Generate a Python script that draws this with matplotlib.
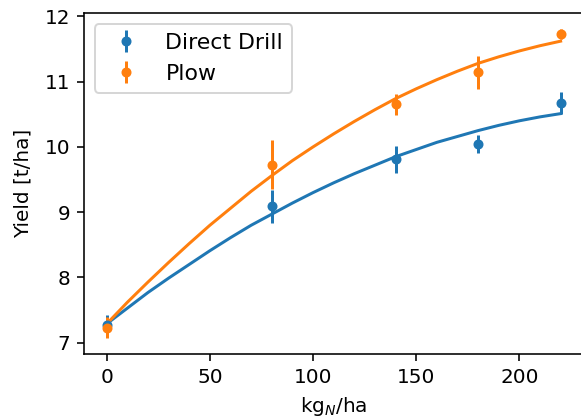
import numpy as np
import matplotlib
matplotlib.use("Agg")
import matplotlib.pyplot as plt

# Measured yields (mean and error) per nitrogen rate
n_rate = [0, 80, 140, 180, 220]
dd_yield = [7.27, 9.09, 9.81, 10.04, 10.67]
dd_err = [0.15, 0.25, 0.21, 0.14, 0.17]
plow_yield = [7.23, 9.73, 10.65, 11.14, 11.73]
plow_err = [0.16, 0.38, 0.16, 0.26, 0.08]

# Fitted response curves
curve_x = [0, 10, 20, 30, 40, 50, 60, 70, 80, 90, 100, 110, 120, 130, 140,
           150, 160, 170, 180, 190, 200, 210, 220]
dd_curve = [7.29, 7.53, 7.77, 7.99, 8.20, 8.41, 8.61, 8.80, 8.97, 9.14, 9.30,
            9.45, 9.59, 9.72, 9.85, 9.96, 10.07, 10.16, 10.25, 10.33, 10.40,
            10.46, 10.51]
plow_curve = [7.29, 7.62, 7.93, 8.23, 8.52, 8.80, 9.06, 9.32, 9.56, 9.79, 10.00,
              10.20, 10.39, 10.57, 10.74, 10.89, 11.03, 11.16, 11.28, 11.38,
              11.47, 11.55, 11.62]

fig = plt.figure(figsize=(581/144, 420/144), dpi=144)
ax = fig.add_axes([0.1446, 0.1579, 0.8594, 0.8105])

ax.errorbar(n_rate, dd_yield, yerr=dd_err, fmt='o', ms=4, color='C0', label='Direct Drill')
ax.plot(curve_x, dd_curve, color='C0')
ax.errorbar(n_rate, plow_yield, yerr=plow_err, fmt='o', ms=4, color='C1', label='Plow')
ax.plot(curve_x, plow_curve, color='C1')

ax.set_xlabel('kg$_N$/ha')
ax.set_ylabel('Yield [t/ha]', labelpad=6)
ax.spines['right'].set_visible(False)
ax.legend(loc='upper left', fontsize=11)

fig.savefig('out.png', dpi=144)
